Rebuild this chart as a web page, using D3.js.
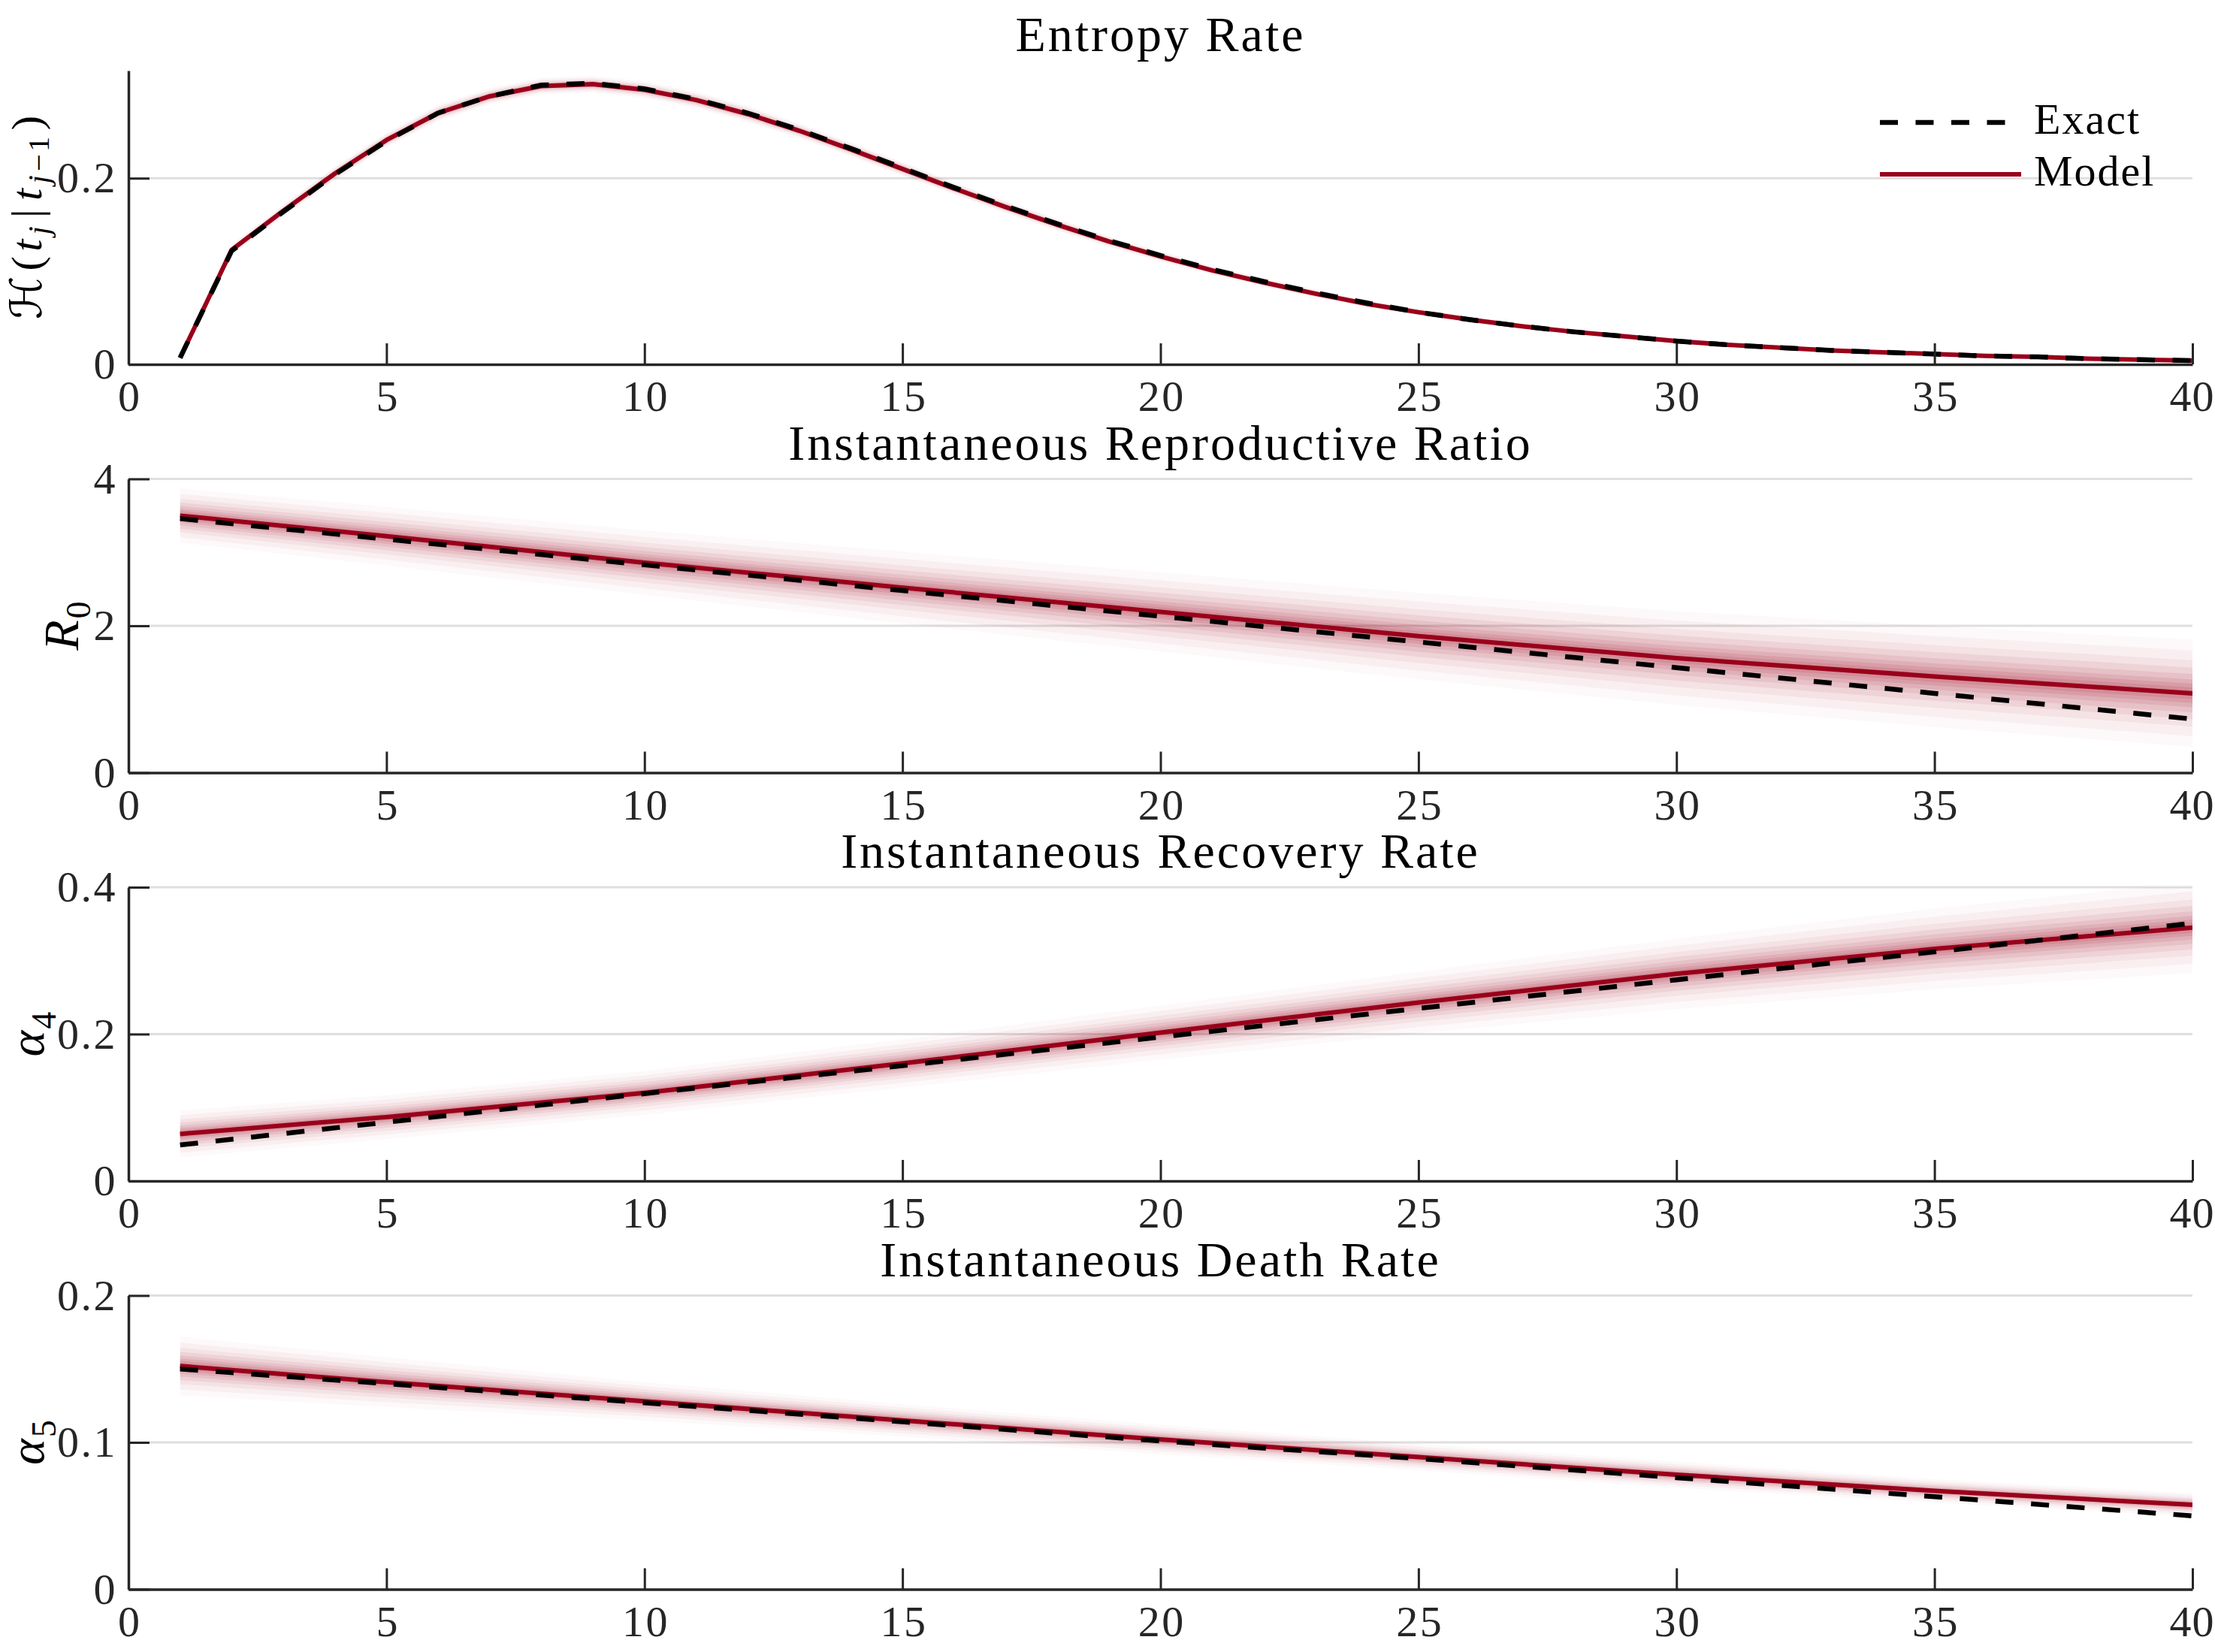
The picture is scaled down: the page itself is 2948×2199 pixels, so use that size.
<!DOCTYPE html>
<html><head><meta charset="utf-8">
<script src="https://cdn.jsdelivr.net/npm/d3@7"></script>
<style>
html,body{margin:0;padding:0;background:#fff;}
svg{display:block;}
text{font-family:"Liberation Serif","Times New Roman",serif;}
</style></head><body>
<svg id="chart" width="2948" height="2199"></svg>
<script>
// ---------------- data ----------------
const tFine = [1,2,3,4,5,6,7,8,9,10,11,12,13,14,15,16,17,18,19,20,21,22,23,24,25,26,27,28,29,30,31,32,33,34,35,36,37,38,39,40];
const entropyExact = [0.007,0.122,0.164,0.204,0.240,0.270,0.288,0.300,0.302,0.296,0.285,0.270,0.252,0.232,0.211,0.190,0.170,0.151,0.133,0.117,0.102,0.089,0.077,0.066,0.056,0.048,0.041,0.035,0.030,0.025,0.021,0.018,0.015,0.013,0.011,0.009,0.008,0.006,0.005,0.004];
const entropyModel = [0.007,0.123,0.165,0.205,0.241,0.270,0.288,0.299,0.301,0.295,0.284,0.269,0.251,0.231,0.210,0.189,0.169,0.150,0.132,0.116,0.101,0.088,0.076,0.065,0.056,0.048,0.041,0.035,0.030,0.025,0.021,0.018,0.015,0.013,0.011,0.009,0.008,0.006,0.005,0.004];
const entropySpread = [0.002,0.006,0.007,0.008,0.008,0.009,0.009,0.009,0.009,0.009,0.009,0.009,0.008,0.008,0.008,0.007,0.007,0.007,0.006,0.006,0.005,0.005,0.005,0.004,0.004,0.004,0.003,0.003,0.003,0.003,0.002,0.002,0.002,0.002,0.002,0.002,0.001,0.001,0.001,0.001];

const tCoarse = [1,5,10,15,20,25,30,35,40];
const r0Exact  = [3.46,3.18,2.83,2.48,2.13,1.78,1.43,1.08,0.73];
const r0Model  = [3.50,3.22,2.86,2.52,2.19,1.86,1.56,1.31,1.08];
const r0Spread = [0.37,0.40,0.44,0.49,0.54,0.59,0.64,0.69,0.73];

const a4Exact  = [0.049,0.080,0.119,0.157,0.196,0.235,0.274,0.312,0.351];
const a4Model  = [0.064,0.087,0.120,0.160,0.202,0.243,0.282,0.316,0.345];
const a4Spread = [0.032,0.030,0.030,0.033,0.037,0.042,0.048,0.055,0.062];

const a5Exact  = [0.150,0.140,0.127,0.114,0.101,0.089,0.076,0.063,0.050];
const a5Model  = [0.152,0.141,0.128,0.115,0.102,0.090,0.078,0.067,0.0575];
const a5Spread = [0.020,0.017,0.013,0.011,0.010,0.009,0.009,0.008,0.008];

const xTicks = [0,5,10,15,20,25,30,35,40];
const titles = ["Entropy Rate","Instantaneous Reproductive Ratio","Instantaneous Recovery Rate","Instantaneous Death Rate"];
const yDomains = [[0,0.3156],[0,4],[0,0.4],[0,0.2]];
const yTickSets = [[0,0.2],[0,2,4],[0,0.2,0.4],[0,0.1,0.2]];
const legendLabels = ["Exact","Model"];

// ---------------- style ----------------
const RED = "#99001a";
const AXIS = "#262626";
const GRID = "#dfdfdf";
const bandFrac = [1.0,0.8,0.62,0.48,0.36,0.26,0.18,0.11,0.05];
const bandOp   = [0.025,0.04,0.05,0.07,0.08,0.09,0.1,0.1,0.1];

const panels = [
  {t:tFine, exact:entropyExact, model:entropyModel, spread:entropySpread, label:"H", lx:55},
  {t:tCoarse, exact:r0Exact, model:r0Model, spread:r0Spread, label:"R0", lx:104},
  {t:tCoarse, exact:a4Exact, model:a4Model, spread:a4Spread, label:"a4", lx:58},
  {t:tCoarse, exact:a5Exact, model:a5Model, spread:a5Spread, label:"a5", lx:58}
];

const svg = d3.select("#chart");
const left = 171, right = 2918, top0 = 94, step = 543.5, ph = 391;
const cx = (left+right)/2;
const x = d3.scaleLinear().domain([0,40]).range([left,right]);

function addParts(textSel, parts, fs, subShift){
  let shift = 0;
  parts.forEach(p=>{
    const target = p.sub ? fs*subShift : 0;
    const ts = textSel.append("tspan").text(p.s)
      .attr("dy", target - shift)
      .attr("font-size", p.sub ? fs*0.7 : fs);
    if (p.dx) ts.attr("dx", p.dx);
    if (p.it) ts.attr("font-style","italic");
    if (p.fam) ts.attr("font-family", p.fam);
    shift = target;
  });
}

panels.forEach((p,i)=>{
  const top = top0 + step*i, bottom = top + ph;
  const y = d3.scaleLinear().domain(yDomains[i]).range([bottom, top]);
  const g = svg.append("g");

  g.append("clipPath").attr("id","clip"+i).append("rect")
    .attr("x",left).attr("y",top).attr("width",right-left).attr("height",ph);

  // grid
  g.selectAll("line.grid").data(yTickSets[i].filter(v=>v>yDomains[i][0])).join("line")
    .attr("class","grid")
    .attr("x1",left).attr("x2",right)
    .attr("y1",d=>y(d)).attr("y2",d=>y(d))
    .attr("stroke",GRID).attr("stroke-width",3);

  const pts = p.t.map((tt,k)=>({t:tt, m:p.model[k], s:p.spread[k], e:p.exact[k]}));
  const plot = g.append("g").attr("clip-path",`url(#clip${i})`);

  bandFrac.forEach((f,li)=>{
    const area = d3.area().x(d=>x(d.t)).y0(d=>y(d.m - f*d.s)).y1(d=>y(d.m + f*d.s));
    plot.append("path").datum(pts).attr("d",area)
      .attr("fill",RED).attr("fill-opacity",bandOp[li]).attr("stroke","none");
  });

  plot.append("path").datum(pts)
    .attr("d", d3.line().x(d=>x(d.t)).y(d=>y(d.m)))
    .attr("fill","none").attr("stroke",RED).attr("stroke-width",6)
    .attr("stroke-linejoin","round");

  plot.append("path").datum(pts)
    .attr("d", d3.line().x(d=>x(d.t)).y(d=>y(d.e)))
    .attr("fill","none").attr("stroke","#000").attr("stroke-width",6.5)
    .attr("stroke-dasharray","24,23.5");

  // axes
  const xa = g.append("g").attr("transform",`translate(0,${bottom})`)
    .call(d3.axisBottom(x).tickValues(xTicks).tickSizeInner(-28).tickSizeOuter(0).tickPadding(21).tickFormat(d3.format("d")));
  const ya = g.append("g").attr("transform",`translate(${left},0)`)
    .call(d3.axisLeft(y).tickValues(yTickSets[i]).tickSizeInner(-28).tickSizeOuter(0).tickPadding(15).tickFormat(d=>String(d)));
  [xa,ya].forEach(a=>{
    a.attr("font-family",null).attr("font-size",null);
    a.select(".domain").attr("stroke",AXIS).attr("stroke-width",3.5);
    a.selectAll(".tick line").attr("stroke",AXIS).attr("stroke-width",3);
    a.selectAll(".tick text").attr("fill",AXIS).attr("font-size",58)
      .attr("letter-spacing",2.5)
      .attr("font-family",'"Liberation Serif",serif');
  });
  xa.selectAll(".tick text").attr("dx",1.25);
  xa.selectAll(".tick text").filter(d=>d===40).attr("letter-spacing",1).attr("dx",-1);

  // title
  g.append("text").attr("x",cx).attr("y",top-26).attr("text-anchor","middle")
    .attr("font-size",66).attr("letter-spacing",3).attr("fill","#000").text(titles[i]);

  // y label
  const fs = p.label==="H" ? 58 : 66;
  const yl = g.append("text").attr("text-anchor","middle").attr("fill","#000")
    .attr("transform",`translate(${p.lx},${(top+bottom)/2}) rotate(-90)`).attr("font-size",fs);
  if (p.label==="H"){
    addParts(yl,[
      {s:"\u210B", fam:'"DejaVu Serif","DejaVu Sans",serif'},
      {s:"(", dx:4},{s:"t",it:true, dx:3},{s:"j",it:true,sub:true, dx:3},
      {s:"|", dx:8},{s:"t",it:true, dx:8},{s:"j",it:true,sub:true, dx:3},{s:"\u22121",sub:true, dx:2},{s:")", dx:5}
    ],fs,0.18);
    yl.attr("textLength",271).attr("lengthAdjust","spacing");
  } else if (p.label==="R0"){
    addParts(yl,[{s:"R",it:true},{s:"0",sub:true, dx:2}],fs,0.24);
  } else if (p.label==="a4"){
    addParts(yl,[{s:"\u03B1",it:true},{s:"4",sub:true, dx:2}],fs,0.24);
  } else {
    addParts(yl,[{s:"\u03B1",it:true},{s:"5",sub:true, dx:2}],fs,0.24);
  }

  // legend in first panel
  if (i===0){
    const lg = g.append("g");
    const lyExact = 163, lyModel = 232;
    lg.append("line").attr("x1",2502).attr("x2",2690).attr("y1",lyExact).attr("y2",lyExact)
      .attr("stroke","#000").attr("stroke-width",6.5).attr("stroke-dasharray","24,23.5");
    lg.append("line").attr("x1",2502).attr("x2",2690).attr("y1",lyModel).attr("y2",lyModel)
      .attr("stroke",RED).attr("stroke-width",6);
    lg.append("text").attr("x",2707).attr("y",lyExact+15).attr("font-size",58).attr("letter-spacing",2).attr("fill","#000").text(legendLabels[0]);
    lg.append("text").attr("x",2707).attr("y",lyModel+15).attr("font-size",58).attr("letter-spacing",2).attr("fill","#000").text(legendLabels[1]);
  }
});
</script>
</body></html>
